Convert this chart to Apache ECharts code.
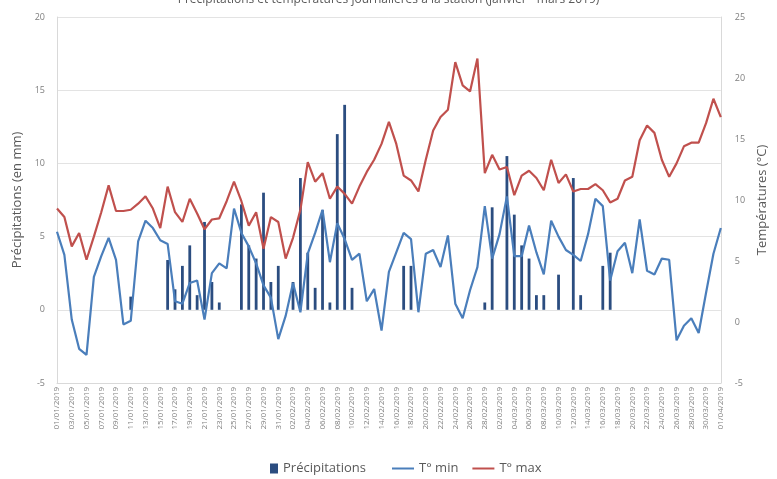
<!DOCTYPE html>
<html>
<head>
<meta charset="utf-8">
<script src="https://cdn.jsdelivr.net/npm/echarts@6/dist/echarts.min.js"></script>
<style>html,body{margin:0;padding:0;background:#fff;}#c{width:777px;height:479px;}</style>
</head>
<body>
<div id="c"></div>
<script>
var dates = [
'01/01/2019','02/01/2019','03/01/2019','04/01/2019','05/01/2019','06/01/2019','07/01/2019','08/01/2019','09/01/2019','10/01/2019',
'11/01/2019','12/01/2019','13/01/2019','14/01/2019','15/01/2019','16/01/2019','17/01/2019','18/01/2019','19/01/2019','20/01/2019',
'21/01/2019','22/01/2019','23/01/2019','24/01/2019','25/01/2019','26/01/2019','27/01/2019','28/01/2019','29/01/2019','30/01/2019','31/01/2019',
'01/02/2019','02/02/2019','03/02/2019','04/02/2019','05/02/2019','06/02/2019','07/02/2019','08/02/2019','09/02/2019','10/02/2019',
'11/02/2019','12/02/2019','13/02/2019','14/02/2019','15/02/2019','16/02/2019','17/02/2019','18/02/2019','19/02/2019','20/02/2019',
'21/02/2019','22/02/2019','23/02/2019','24/02/2019','25/02/2019','26/02/2019','27/02/2019','28/02/2019',
'01/03/2019','02/03/2019','03/03/2019','04/03/2019','05/03/2019','06/03/2019','07/03/2019','08/03/2019','09/03/2019','10/03/2019',
'11/03/2019','12/03/2019','13/03/2019','14/03/2019','15/03/2019','16/03/2019','17/03/2019','18/03/2019','19/03/2019','20/03/2019',
'21/03/2019','22/03/2019','23/03/2019','24/03/2019','25/03/2019','26/03/2019','27/03/2019','28/03/2019','29/03/2019','30/03/2019','31/03/2019',
'01/04/2019'
];

var precipitations = [
0,0,0,0,0,0,0,0,0,0,
0.9,0,0,0,0,3.4,1.4,3.0,4.4,1.0,
6.0,1.9,0.5,0,0,7.2,4.4,3.5,8.0,1.9,3.0,
0,1.9,9.0,3.9,1.5,6.8,0.5,12.0,14.0,1.5,
0,0,0,0,0,0,3.0,3.0,0,0,
0,0,0,0,0,0,0,0.5,
7.0,0,10.5,6.5,4.4,3.5,1.0,1.0,0,2.4,
0,9.0,1.0,0,0,3.0,3.9,0,0,0,
0,0,0,0,0,0,0,0,0,0,0,
0
];

var tMin = [
7.4,5.5,0.2,-2.2,-2.7,3.7,5.4,6.9,5.1,-0.2,
0.1,6.6,8.3,7.7,6.7,6.4,1.7,1.5,3.2,3.4,
0.2,4.0,4.8,4.4,9.3,7.3,6.2,4.8,3.0,2.0,-1.4,
0.5,3.2,0.8,5.6,7.3,9.2,4.9,8.1,6.8,5.1,
5.6,1.7,2.7,-0.7,4.1,5.7,7.3,6.8,0.8,5.6,
5.9,4.5,7.1,1.5,0.3,2.6,4.5,9.5,
5.2,7.2,10.3,5.4,5.4,7.9,5.7,3.9,8.3,7.0,
5.9,5.5,5.0,7.2,10.1,9.5,3.4,5.8,6.5,4.0,
8.4,4.2,3.9,5.2,5.1,-1.5,-0.3,0.3,-0.9,2.4,5.6,
7.7
];

var tMax = [
9.3,8.6,6.2,7.3,5.1,7.0,9.0,11.2,9.1,9.1,
9.2,9.7,10.3,9.3,7.7,11.1,9.0,8.2,10.1,8.9,
7.6,8.4,8.5,9.9,11.5,9.9,7.9,9.0,6.0,8.6,8.2,
5.2,6.9,9.2,13.1,11.5,12.2,10.1,11.1,10.5,9.7,
11.1,12.3,13.3,14.6,16.4,14.6,12.0,11.6,10.7,13.3,
15.7,16.8,17.4,21.3,19.4,18.9,21.6,12.2,
13.7,12.5,12.7,10.4,12.0,12.4,11.8,10.8,13.3,11.4,
12.1,10.7,10.9,10.9,11.3,10.8,9.8,10.1,11.6,11.9,
14.9,16.1,15.5,13.3,11.9,13.0,14.4,14.7,14.7,16.3,18.3,
16.8
];

var leftTicks = {min: -5, max: 20, interval: 5};
var rightTicks = {min: -5, max: 25, interval: 5};

var chart = echarts.init(document.getElementById('c'), null, {renderer: 'canvas'});
var grey = '#7f7f7f';
chart.setOption({
  animation: false,
  backgroundColor: '#ffffff',
  textStyle: {fontFamily: 'Open Sans, Liberation Sans, sans-serif'},
  title: {
    text: 'Précipitations et températures journalières à la station (janvier - mars 2019)',
    left: 'center', top: -11,
    textStyle: {fontSize: 12, fontWeight: 'normal', color: '#595959'}
  },
  legend: [
    {
      left: 265, top: 457,
      itemWidth: 8, itemHeight: 10, itemGap: 16,
      textStyle: {fontSize: 13, color: '#595959'},
      data: [{name: 'Précipitations', icon: 'rect'}]
    },
    {
      left: 387, top: 457,
      itemWidth: 22, itemHeight: 2, itemGap: 14,
      textStyle: {fontSize: 13, color: '#595959'},
      data: [{name: 'T° min', icon: 'rect'}, {name: 'T° max', icon: 'rect'}]
    }
  ],
  grid: {left: 57, right: 55, top: 17, bottom: 96, containLabel: false},
  xAxis: {
    type: 'category',
    data: dates,
    boundaryGap: false,
    axisLine: {onZero: false, lineStyle: {color: '#d9d9d9'}},
    axisTick: {show: false},
    axisLabel: {rotate: 90, interval: 1, fontSize: 8, color: grey, margin: 4},
    splitLine: {show: false}
  },
  yAxis: [
    {
      type: 'value', min: leftTicks.min, max: leftTicks.max, interval: leftTicks.interval,
      name: 'Précipitations (en mm)', nameLocation: 'middle', nameGap: 32, nameRotate: 90,
      nameTextStyle: {fontSize: 13, color: '#595959'},
      axisLine: {show: true, lineStyle: {color: '#d9d9d9'}},
      axisTick: {show: false},
      axisLabel: {fontSize: 9, color: grey, margin: 12},
      splitLine: {show: true, lineStyle: {color: '#e3e3e3', width: 1}}
    },
    {
      type: 'value', min: rightTicks.min, max: rightTicks.max, interval: rightTicks.interval,
      name: 'Températures (°C)', nameLocation: 'middle', nameGap: 30, nameRotate: 90,
      nameTextStyle: {fontSize: 13, color: '#595959'},
      axisLine: {show: true, lineStyle: {color: '#d9d9d9'}},
      axisTick: {show: false},
      axisLabel: {fontSize: 9, color: grey, margin: 14},
      splitLine: {show: false}
    }
  ],
  series: [
    {
      name: 'Précipitations', type: 'bar', yAxisIndex: 0,
      data: precipitations, barWidth: 2.8,
      itemStyle: {color: '#2B4D80'}
    },
    {
      name: 'T° min', type: 'line', yAxisIndex: 1,
      data: tMin, symbol: 'none', smooth: false,
      lineStyle: {color: '#4A7EBB', width: 2.2},
      itemStyle: {color: '#4A7EBB'}
    },
    {
      name: 'T° max', type: 'line', yAxisIndex: 1,
      data: tMax, symbol: 'none', smooth: false,
      lineStyle: {color: '#C0504D', width: 2.2},
      itemStyle: {color: '#C0504D'}
    }
  ]
});
</script>
</body>
</html>
